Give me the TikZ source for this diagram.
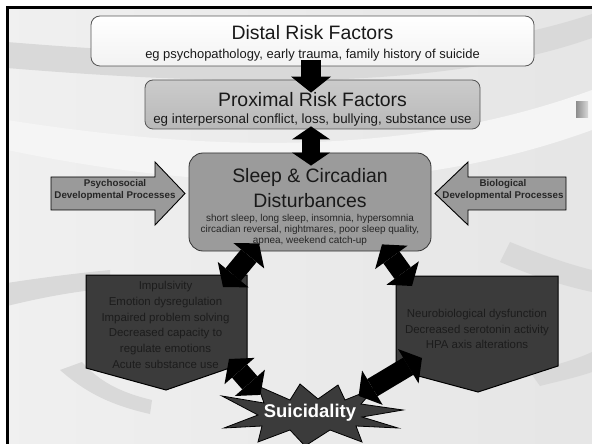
\documentclass[tikz,border=0pt]{standalone}
\usepackage{fontspec}
\setmainfont{Liberation Sans}
\usetikzlibrary{arrows.meta,calc}
\definecolor{bgc}{HTML}{ECECEC}
\definecolor{bandc}{HTML}{D9D9D9}
\definecolor{lightband}{HTML}{F5F5F5}
\definecolor{proxc}{HTML}{C2C2C2}
\definecolor{sleepc}{HTML}{9B9B9B}
\definecolor{sidec}{HTML}{9A9A9A}
\definecolor{darkc}{HTML}{3B3B3B}
\definecolor{darktext}{HTML}{1C1C1C}
\definecolor{edgec}{HTML}{555555}
\tikzset{
  bigtip/.tip={Triangle[length=16bp,width=40bp,line width=0pt]},
  shorttip/.tip={Triangle[length=13bp,width=38bp,line width=0pt]},
  blockarrow/.style={draw=black, line width=20bp, arrows={-bigtip}},
  dblarrow/.style={draw=black, line width=20bp, arrows={bigtip-bigtip}},
  shortdbl/.style={draw=black, line width=18bp, arrows={shorttip-shorttip}},
  distalbox/.style={draw=edgec, line width=0.8bp, rounded corners=9bp, top color=white, bottom color=white!95!black},
  proxbox/.style={draw=edgec, line width=0.8bp, rounded corners=8bp, top color=proxc!85!white, bottom color=proxc!95!black},
  sleepbox/.style={draw=black!80, line width=0.8bp, rounded corners=14bp, fill=sleepc},
  sidearrow/.style={draw=black, line width=0.9bp, fill=sidec},
  darkbox/.style={draw=black, line width=1bp, fill=darkc},
  titletext/.style={font=\fontsize{19.5}{25}\selectfont, text=black!90, align=center},
  subtext/.style={font=\fontsize{13}{15}\selectfont, text=black!90},
  smalltext/.style={font=\fontsize{10}{11}\selectfont, text=black!85, align=center},
  sidetext/.style={font=\bfseries\fontsize{9.8}{11.5}\selectfont, text=black!85, align=center},
  darkboxtext/.style={font=\fontsize{11.5}{15.8}\selectfont, text=darktext, align=center},
  startext/.style={font=\bfseries\fontsize{18.5}{20}\selectfont, text=white}
}
\begin{document}
\begin{tikzpicture}[x=1bp,y=-1bp]
\useasboundingbox (0,0) rectangle (592,444);
% background
\fill[white] (0,0) rectangle (592,444);
\fill[left color=white!94!black, right color=white!90!black] (7,7) rectangle (592,444);
\fill[bandc] (7,42) .. controls (250,62) and (450,62) .. (592,14) -- (592,38) .. controls (450,88) and (250,88) .. (7,68) -- cycle;
\fill[lightband] (7,120) .. controls (200,150) and (400,160) .. (592,90) -- (592,130) .. controls (400,200) and (200,190) .. (7,150) -- cycle;
\fill[bandc] (7,283) .. controls (40,278) and (70,274) .. (110,270) -- (110,288) .. controls (70,292) and (40,298) .. (7,306) -- cycle;
\fill[bandc] (60,370) .. controls (85,392) and (110,405) .. (150,414) -- (152,400) .. controls (118,392) and (98,380) .. (82,362) -- cycle;
\fill[bandc] (500,262) .. controls (530,275) and (560,285) .. (592,292) -- (592,270) .. controls (560,262) and (530,250) .. (510,242) -- cycle;
\fill[bandc] (530,372) .. controls (555,365) and (575,360) .. (592,352) -- (592,372) .. controls (575,378) and (555,382) .. (540,386) -- cycle;
\fill[left color=black!45, right color=black!15] (576,102) rectangle (588,118);
% frame
\draw[line width=2.6bp] (7.3,444) -- (7.3,7.3) -- (592,7.3);

% boxes
\node[distalbox, minimum width=443bp, minimum height=50bp] (distal) at (312.5,41) {};
\node[proxbox, minimum width=335bp, minimum height=49bp] (prox) at (312.5,104.5) {};
\node[sleepbox, minimum width=242bp, minimum height=98bp] (sleep) at (310,202) {};

% side arrows
\draw[sidearrow] (51,177) -- (155,177) -- (155,162) -- (185,193.5) -- (155,225) -- (155,210) -- (51,210) -- cycle;
\draw[sidearrow] (566,177) -- (468,177) -- (468,162) -- (435,193.5) -- (468,225) -- (468,210) -- (566,210) -- cycle;
\node[sidetext] (psy) at (115,190) {Psychosocial\\Developmental Processes};
\node[sidetext] (bio) at (503,190) {Biological\\Developmental Processes};

% dark boxes
\coordinate (lnw) at (86,275); \coordinate (lne) at (247,275);
\coordinate (lse) at (247,362); \coordinate (lbot) at (166,390); \coordinate (lsw) at (86,368);
\draw[darkbox] (lnw) -- (lne) -- (lse) -- (lbot) -- (lsw) -- cycle;
\coordinate (rnw) at (396,276); \coordinate (rne) at (558,276);
\coordinate (rse) at (558,366); \coordinate (rbot) at (478,392); \coordinate (rsw) at (396,370);
\draw[darkbox] (rnw) -- (rne) -- (rse) -- (rbot) -- (rsw) -- cycle;
\node[darkboxtext] (ltext) at (165.5,325) {Impulsivity\\Emotion dysregulation\\Impaired problem solving\\Decreased capacity to\\regulate emotions\\Acute substance use};
\node[darkboxtext] (rtext) at (477,329) {Neurobiological dysfunction\\Decreased serotonin activity\\HPA axis alterations};

% star
\draw[fill=darkc, draw=black, line width=0.8bp]
 (222,396) -- (264,403) -- (258,386) -- (290,400) -- (300,384) -- (318,399) -- (338,385) -- (345,400)
 -- (375,388) -- (361,404) -- (403,410) -- (362,417) -- (398,428) -- (356,426) -- (362,442) -- (330,430)
 -- (305,446) -- (290,430) -- (258,442) -- (262,426) -- (224,428) -- (258,415) -- cycle;
\node[startext] (sui) at (310,413) {Suicidality};

% texts in boxes
\node[titletext] (distalT) at (312.5,33) {Distal Risk Factors};
\node[subtext] (distalS) at (312.5,55.5) {eg psychopathology, early trauma, family history of suicide};
\node[titletext] (proxT) at (312.5,100) {Proximal Risk Factors};
\node[subtext, font=\fontsize{13.4}{15}\selectfont] (proxS) at (312.5,120.5) {eg interpersonal conflict, loss, bullying, substance use};
\node[titletext] (sleepT) at (310,188.5) {Sleep \& Circadian\\Disturbances};
\node[smalltext] (sleepS) at (310,229.5) {short sleep, long sleep, insomnia, hypersomnia\\circadian reversal, nightmares, poor sleep quality,\\apnea, weekend catch-up};

% connectors
\draw[blockarrow] ($(distal.south)+(-1.5,-6)$) -- ($(prox.north)+(-1.5,13)$);
\draw[shortdbl] ($(prox.south)+(-1.5,-3)$) -- ($(sleep.north)+(1,13)$);
\draw[dblarrow] ($(sleep.south)+(-51,-8)$) -- ($(lne)+(-24,12)$);
\draw[dblarrow] ($(sleep.south)+(72,-7)$) -- ($(rnw)+(16,10)$);
\draw[dblarrow] ($(lse)+(-18,-3)$) -- ($(sui.north west)+(0,-6)$);
\draw[dblarrow] ($(rsw)+(26,-12)$) -- ($(sui.north east)+(-1,-5)$);
\end{tikzpicture}
\end{document}
